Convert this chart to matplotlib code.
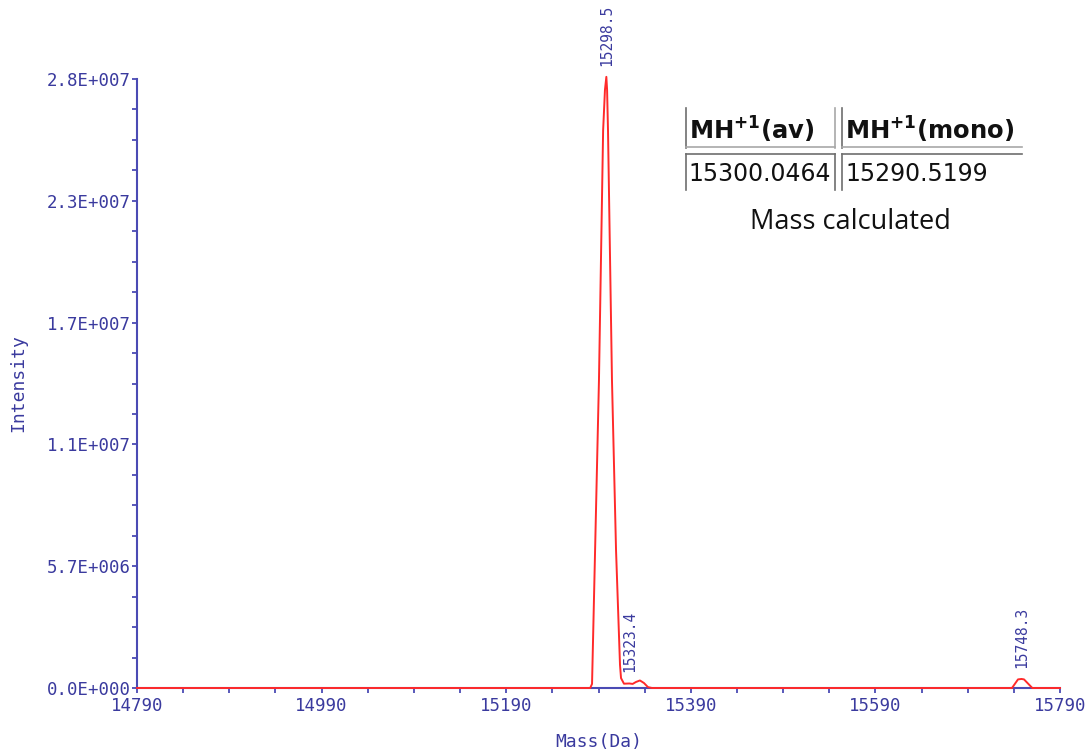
import matplotlib
matplotlib.use("Agg")
import matplotlib.pyplot as plt
import numpy as np
from matplotlib.lines import Line2D

# Deconvoluted mass spectrum profile (mass in Da, intensity in counts)
mass = [14790, 15281, 15283, 15290.5, 15295, 15297, 15298.5, 15299.3, 15300.3,
        15304.6, 15309, 15313.3, 15314.4, 15317.6, 15323.4, 15327, 15330.6,
        15334.9, 15339.3, 15343.6, 15348, 15738, 15744.5, 15748.3, 15751,
        15760, 15790]
intensity = [0, 0, 1.9e5, 1.43e7, 2.59e7, 2.78e7, 2.84e7, 2.78e7, 2.59e7,
             1.43e7, 6.4e6, 1.07e6, 4.6e5, 2.0e5, 2.1e5, 1.9e5, 2.8e5,
             3.5e5, 2.3e5, 4e4, 0, 0, 4.0e5, 4.2e5, 4.0e5,
             0, 0]

# Annotated peaks
peak_mass = [15298.5, 15323.4, 15748.3]
peak_int = [2.84e7, 2.1e5, 4.2e5]
peak_text = ["15298.5", "15323.4", "15748.3"]

x_ticks = [14790, 14990, 15190, 15390, 15590, 15790]
y_ticks = [0, 5.66e6, 1.132e7, 1.698e7, 2.264e7, 2.83e7]
y_tick_labels = ["0.0E+000", "5.7E+006", "1.1E+007", "1.7E+007", "2.3E+007", "2.8E+007"]

# Calculated mass table
table_header = [r"MH$^{\mathbf{+1}}$(av)", r"MH$^{\mathbf{+1}}$(mono)"]
table_values = ["15300.0464", "15290.5199"]
table_caption = "Mass calculated"

W, H = 1091, 753
axis_col = "#4b4bb4"
text_col = "#3a3a9e"
mono = "DejaVu Sans Mono"

fig = plt.figure(figsize=(W / 100, H / 100), dpi=100)
ax = fig.add_axes([137 / W, 1 - 688 / H, (1060 - 137) / W, (688 - 79) / H])

ax.plot(mass, intensity, color="#ff2a2a", lw=1.4, clip_on=False, zorder=5)

ax.set_xlim(14790, 15790)
ax.set_ylim(0, 2.83e7)

ax.set_xticks(x_ticks)
ax.set_xticklabels([str(v) for v in x_ticks])
ax.set_xticks(np.arange(14790, 15791, 50), minor=True)
ax.set_yticks(y_ticks)
ax.set_yticklabels(y_tick_labels)
ax.set_yticks(np.arange(0, 2.83e7 + 1, 5.66e6 / 4), minor=True)

for side in ("top", "right"):
    ax.spines[side].set_visible(False)
for side in ("left", "bottom"):
    ax.spines[side].set_color(axis_col)
    ax.spines[side].set_linewidth(1.5)

ax.tick_params(axis="both", which="both", direction="out", color=axis_col,
               width=1.3, length=3.5, labelcolor=text_col)
ax.tick_params(axis="y", which="major", pad=1)
ax.tick_params(axis="x", which="major", pad=3)
for lab in ax.get_xticklabels() + ax.get_yticklabels():
    lab.set_fontfamily(mono)
    lab.set_fontsize(12.5)

ax.set_xlabel("Mass(Da)", family=mono, fontsize=13, color=text_col, labelpad=13)
ax.set_ylabel("Intensity", family=mono, fontsize=13, color=text_col, labelpad=14)

# Peak labels
for m, v, t in zip(peak_mass, peak_int, peak_text):
    ax.annotate(t, xy=(m, v), xytext=(0, 8), textcoords="offset points",
                rotation=90, ha="center", va="bottom", family=mono,
                fontsize=10.5, color=text_col, annotation_clip=False)


def px(x, y):
    return x / W, 1 - y / H


def hline(x0, x1, y, c):
    a, b = px(x0, y)
    d, _ = px(x1, y)
    fig.add_artist(Line2D([a, d], [b, b], color=c, lw=1.2, transform=fig.transFigure))


def vline(x, y0, y1, c):
    a, b = px(x, y0)
    _, e = px(x, y1)
    fig.add_artist(Line2D([a, a], [b, e], color=c, lw=1.2, transform=fig.transFigure))


dark = "#6e6e6e"
light = "#a8a8a8"
# header cells
vline(686, 108, 148, dark)
vline(835, 108, 148, light)
vline(842, 108, 148, dark)
hline(686, 835, 147, light)
hline(842, 1022, 147, light)
# value cells
vline(686, 154, 190, dark)
vline(835, 154, 190, dark)
vline(842, 154, 190, dark)
hline(686, 835, 154, dark)
hline(842, 1022, 154, dark)

fig.text(*px(689, 130), table_header[0], ha="left", va="center",
         fontsize=17.5, fontweight="bold", color="#111111", family="DejaVu Sans")
fig.text(*px(845, 130), table_header[1], ha="left", va="center",
         fontsize=17.5, fontweight="bold", color="#111111", family="DejaVu Sans")
fig.text(*px(688, 174), table_values[0], ha="left", va="center",
         fontsize=17, color="#111111", family="DejaVu Sans")
fig.text(*px(845, 174), table_values[1], ha="left", va="center",
         fontsize=17, color="#111111", family="DejaVu Sans")
fig.text(*px(850, 222), table_caption, ha="center", va="center",
         fontsize=19.5, color="#111111", family="Open Sans")

fig.savefig("out.png", dpi=100)
